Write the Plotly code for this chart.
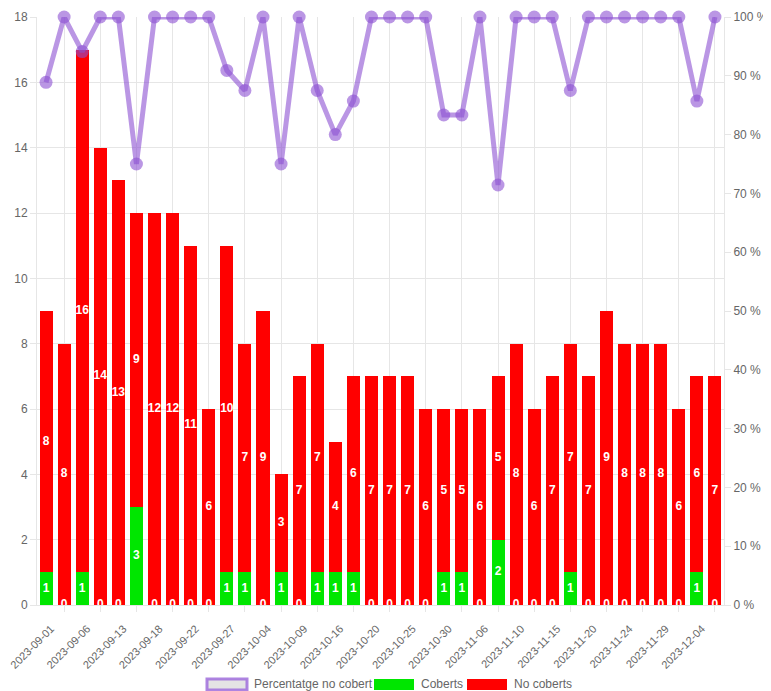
import plotly.graph_objects as go

dates = ["2023-09-01", "2023-09-04", "2023-09-06", "2023-09-08", "2023-09-13", "2023-09-15",
         "2023-09-18", "2023-09-20", "2023-09-22", "2023-09-25", "2023-09-27", "2023-10-02",
         "2023-10-04", "2023-10-06", "2023-10-09", "2023-10-11", "2023-10-16", "2023-10-18",
         "2023-10-20", "2023-10-23", "2023-10-25", "2023-10-27", "2023-10-30", "2023-11-03",
         "2023-11-06", "2023-11-08", "2023-11-10", "2023-11-13", "2023-11-15", "2023-11-17",
         "2023-11-20", "2023-11-22", "2023-11-24", "2023-11-27", "2023-11-29", "2023-12-01",
         "2023-12-04", "2023-12-06"]

coberts = [1, 0, 1, 0, 0, 3, 0, 0, 0, 0, 1, 1, 0, 1, 0, 1, 1, 1, 0, 0,
           0, 0, 1, 1, 0, 2, 0, 0, 0, 1, 0, 0, 0, 0, 0, 0, 1, 0]
no_coberts = [8, 8, 16, 14, 13, 9, 12, 12, 11, 6, 10, 7, 9, 3, 7, 7, 4, 6, 7, 7,
              7, 6, 5, 5, 6, 5, 8, 6, 7, 7, 7, 9, 8, 8, 8, 6, 6, 7]
pct_no_cobert = [88.89, 100, 94.12, 100, 100, 75, 100, 100, 100, 100, 90.91, 87.5, 100, 75,
                 100, 87.5, 80, 85.71, 100, 100, 100, 100, 83.33, 83.33, 100, 71.43, 100, 100,
                 100, 87.5, 100, 100, 100, 100, 100, 100, 85.71, 100]

label_dates = dates[0::2]
grid_dates = dates[1::2]

GRAY = "#666666"
GRID = "#e6e6e6"
FONT = "Liberation Sans, Arial, sans-serif"
PURPLE = "rgba(140,80,210,0.6)"

fig = go.Figure()
fig.add_trace(go.Bar(x=dates, y=coberts, name="Coberts", marker_color="#00e600",
                     marker_line_width=0, showlegend=False, hoverinfo="x+y"))
fig.add_trace(go.Bar(x=dates, y=no_coberts, name="No coberts", marker_color="#ff0000",
                     marker_line_width=0, showlegend=False, hoverinfo="x+y"))

# data labels centred in each segment
fig.add_trace(go.Scatter(x=dates, y=[c / 2 for c in coberts], mode="text",
                         text=[str(c) for c in coberts], cliponaxis=False,
                         textfont=dict(color="white", size=12, family=FONT, weight="bold"),
                         showlegend=False, hoverinfo="skip"))
fig.add_trace(go.Scatter(x=dates, y=[c + n / 2 for c, n in zip(coberts, no_coberts)], mode="text",
                         text=[str(n) for n in no_coberts], cliponaxis=False,
                         textfont=dict(color="white", size=12, family=FONT, weight="bold"),
                         showlegend=False, hoverinfo="skip"))

fig.add_trace(go.Scatter(x=dates, y=pct_no_cobert, xaxis="x2", yaxis="y2",
                         mode="lines+markers", name="Percentatge no cobert",
                         line=dict(color=PURPLE, width=5),
                         marker=dict(color=PURPLE, size=13),
                         cliponaxis=False, showlegend=False))

# page body has an 8px margin, so the figure is 8px smaller in each direction
fig.update_layout(
    width=763, height=683,
    margin=dict(l=29, r=47, t=9, b=86, autoexpand=False),
    paper_bgcolor="white", plot_bgcolor="white",
    barmode="stack", bargap=0.28,
    font=dict(family=FONT, color=GRAY, size=12),
    xaxis=dict(type="category", categoryorder="array", categoryarray=dates,
               range=[-0.5, len(dates) - 0.5], automargin=False,
               tickmode="array", tickvals=label_dates, ticktext=label_dates,
               tickangle=-45, ticks="", showgrid=False,
               ticklabelstandoff=12, ticklabelshift=5,
               showline=True, linecolor=GRID, linewidth=1,
               tickfont=dict(color=GRAY, size=11)),
    xaxis2=dict(type="category", categoryorder="array", categoryarray=dates,
                range=[-0.5, len(dates) - 0.5], overlaying="x", anchor="y",
                side="bottom", automargin=False,
                tickmode="array", tickvals=grid_dates, showticklabels=False,
                ticks="outside", ticklen=6, tickcolor=GRID,
                showgrid=True, gridcolor=GRID, gridwidth=1, showline=False),
    yaxis=dict(range=[0, 18], tickmode="linear", tick0=0, dtick=2, automargin=False,
               showgrid=True, gridcolor=GRID, zeroline=False,
               showline=True, linecolor=GRID, ticks="outside", ticklen=6,
               tickcolor=GRID, tickfont=dict(color=GRAY, size=12)),
    yaxis2=dict(range=[0, 100], tickmode="linear", tick0=0, dtick=10,
                overlaying="y", side="right", anchor="x2", automargin=False,
                showgrid=False, zeroline=False, ticksuffix=" %",
                showline=True, linecolor=GRID, ticks="outside", ticklen=6,
                tickcolor=GRID, tickfont=dict(color=GRAY, size=12)),
)

# custom Chart.js-like legend (paper coordinates, computed from screenshot pixels)
plot_l, plot_w = 37, 687
plot_t, plot_h = 17, 588


def px(xp):
    return (xp - plot_l) / plot_w


def py(yp):
    return (plot_t + plot_h - yp) / plot_h


legend_items = [
    (207, "Percentatge no cobert", "#e4e4e4", "rgba(160,110,220,0.85)", 3),
    (374, "Coberts", "#00e600", "#00e600", 0),
    (467, "No coberts", "#ff0000", "#ff0000", 0),
]
for x0, label, fill, border, bw in legend_items:
    fig.add_shape(type="rect", xref="paper", yref="paper",
                  x0=px(x0), x1=px(x0 + 40), y0=py(690), y1=py(679),
                  fillcolor=fill, line=dict(color=border, width=bw), layer="above")
    fig.add_annotation(xref="paper", yref="paper", x=px(x0 + 45), y=py(684),
                       text=label, showarrow=False, xanchor="left", yanchor="middle",
                       font=dict(color=GRAY, size=12, family=FONT))

fig.write_html("out.html")
